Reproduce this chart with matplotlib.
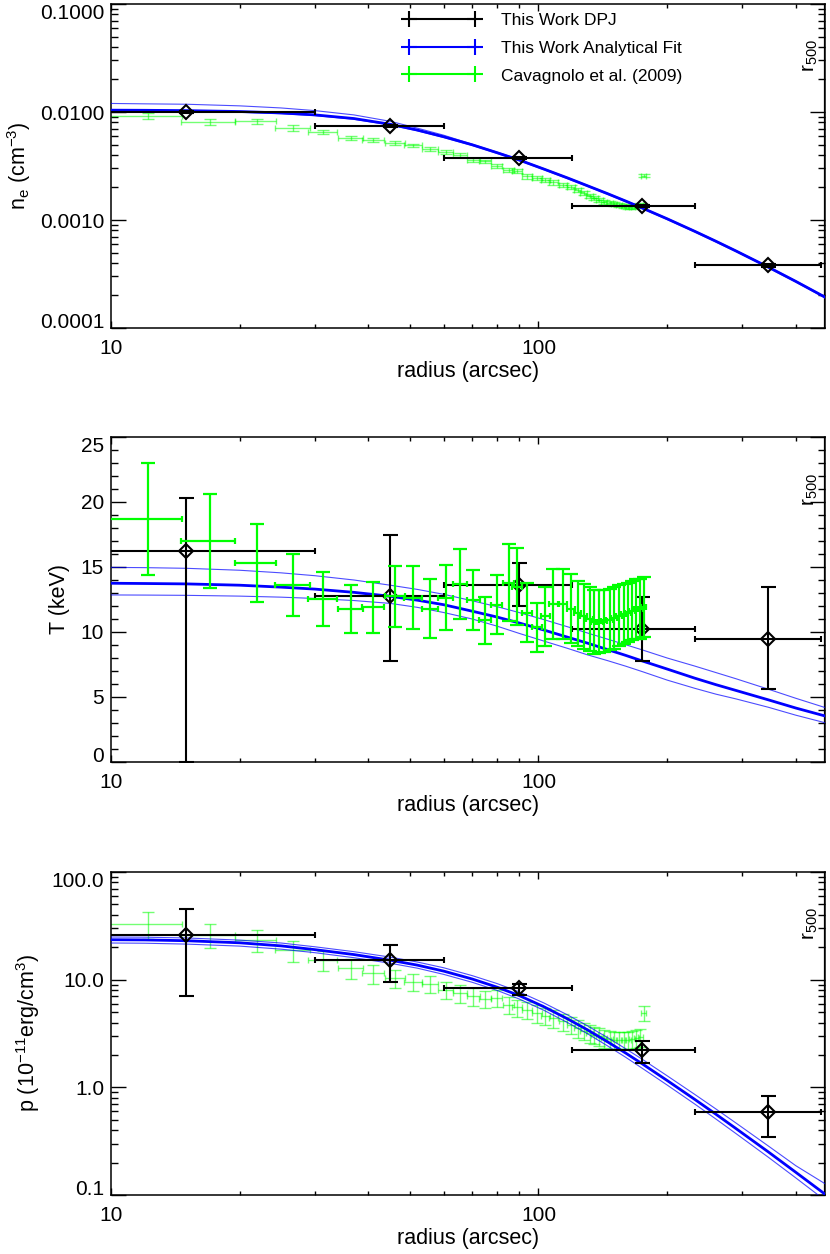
import matplotlib
matplotlib.use('Agg')
import matplotlib.pyplot as plt
from matplotlib.lines import Line2D
from matplotlib.ticker import LogLocator, NullFormatter, MultipleLocator
import numpy as np

plt.rcParams['font.family'] = ['Liberation Sans', 'DejaVu Sans']
plt.rcParams['mathtext.default'] = 'regular'

# --- this work, deprojected (DPJ) bins ---
dpj_r = [15, 45, 90, 175, 345]
dpj_rlo = [0, 30, 60, 120, 232]
dpj_rhi = [30, 60, 120, 232, 459]
dpj_ne = [0.0100, 0.0074, 0.00376, 0.00134, 0.00038]
dpj_ne_err = [0.0002, 0.00012, 0.00006, 0.00003, 0.00001]
dpj_T = [16.25, 12.8, 13.6, 10.2, 9.46]
dpj_T_lo = [16.25, 5.0, 1.6, 2.4, 3.87]
dpj_T_hi = [4.03, 4.7, 1.7, 2.47, 3.98]
dpj_p = [26.1, 15.3, 8.36, 2.20, 0.589]
dpj_p_lo = [19.0, 5.7, 1.11, 0.52, 0.245]
dpj_p_hi = [19.2, 5.8, 0.8, 0.52, 0.245]

# --- analytical fit (best, upper, lower) ---
fit_r = [10, 12, 15, 20, 25, 30, 37, 45, 52, 60, 70, 80, 90, 103, 117, 130, 145,
         160, 175, 200, 232, 260, 290, 345, 400, 467]
fit_ne = [0.0104, 0.01037, 0.0103, 0.0101, 0.0098, 0.0094, 0.0087, 0.0077, 0.00681,
          0.0059, 0.00497, 0.0042, 0.0036, 0.00296, 0.00245, 0.00208, 0.001755,
          0.001497, 0.00129, 0.001026, 0.000786, 0.000636, 0.000516, 0.000366,
          0.00027, 0.000194]
fit_ne_up = [0.0120, 0.0119, 0.0118, 0.0114, 0.0109, 0.0103, 0.0094, 0.0082, 0.0071,
             0.0061, 0.00503, 0.00425, 0.00364, 0.00299, 0.00247, 0.0021, 0.00177,
             0.00151, 0.0013, 0.001036, 0.000794, 0.000642, 0.000521, 0.00037,
             0.000273, 0.000196]
fit_ne_dn = [0.01024, 0.01021, 0.01015, 0.00995, 0.00965, 0.00926, 0.00857, 0.00758,
             0.00671, 0.00581, 0.0049, 0.00414, 0.00355, 0.00292, 0.00241, 0.00205,
             0.00173, 0.001475, 0.00127, 0.00101, 0.000774, 0.000626, 0.000508,
             0.00036, 0.000266, 0.000191]
fit_T = [13.75, 13.73, 13.7, 13.6, 13.45, 13.3, 13.05, 12.75, 12.45, 12.1, 11.6, 11.15,
         10.7, 10.15, 9.6, 9.15, 8.65, 8.2, 7.77, 7.15, 6.45, 5.95, 5.5, 4.78, 4.15,
         3.55]
fit_T_up = [14.97, 14.95, 14.9, 14.75, 14.55, 14.33, 14.0, 13.6, 13.28, 12.9, 12.4,
            11.95, 11.5, 10.95, 10.4, 9.93, 9.45, 9.02, 8.62, 8.0, 7.38, 6.88, 6.4,
            5.6, 4.9, 4.2]
fit_T_dn = [12.85, 12.84, 12.82, 12.76, 12.68, 12.58, 12.42, 12.2, 11.9, 11.5, 11.0,
            10.45, 9.9, 9.3, 8.74, 8.25, 7.8, 7.37, 6.95, 6.3, 5.67, 5.22, 4.85, 4.21,
            3.6, 3.03]
fit_p = [23.5, 23.4, 23.0, 22.0, 20.6, 19.0, 17.11, 15.16, 13.66, 12.01, 10.14, 8.52,
         7.14, 5.60, 4.32, 3.43, 2.65, 2.08, 1.65, 1.157, 0.773, 0.563, 0.413, 0.251,
         0.1624, 0.1025]
fit_p_up = [24.9, 24.8, 24.4, 23.3, 21.9, 20.2, 18.2, 16.2, 14.6, 12.9, 10.9, 9.2,
            7.72, 6.07, 4.7, 3.74, 2.9, 2.28, 1.82, 1.28, 0.86, 0.63, 0.465, 0.285,
            0.187, 0.128]
fit_p_dn = [21.9, 21.8, 21.4, 20.5, 19.2, 17.8, 16.0, 14.2, 12.8, 11.2, 9.45, 7.95,
            6.63, 5.19, 3.99, 3.16, 2.43, 1.9, 1.5, 1.05, 0.70, 0.508, 0.371, 0.224,
            0.144, 0.09]

# --- Cavagnolo et al. (2009) ---
cav_r = [12.2, 17.0, 21.9, 26.7, 31.4, 36.4, 41.1, 46.2, 51.0, 55.8, 60.7, 65.6, 70.4,
         75.1, 79.9, 85.1, 89.0, 94.0, 99.2, 103.7, 108.4, 114.1, 119.3, 123.4, 127.5,
         131.7, 135.2, 138.9, 142.5, 146.6, 150.4, 154.3, 158.1, 161.9, 165.5, 169.3,
         173.0, 176.3]
cav_r_err = 2.45
cav_ne = [0.0092, 0.0081, 0.0082, 0.0071, 0.0065, 0.0058, 0.0055, 0.0052, 0.0049,
          0.00456, 0.00424, 0.00403, 0.00362, 0.00349, 0.00318, 0.00292, 0.00282,
          0.00253, 0.00245, 0.00236, 0.00223, 0.00212, 0.00202, 0.00190, 0.00177,
          0.00167, 0.00159, 0.00153, 0.00148, 0.00145, 0.00141, 0.00138, 0.00135,
          0.00133, 0.00133, 0.00135, 0.00138, 0.00257]
cav_ne_err = [0.0006, 0.0005, 0.0005, 0.0004, 0.0003, 0.00025, 0.00022, 0.0002, 0.00019,
              0.00018, 0.00017, 0.00016, 0.00015, 0.00014, 0.00013, 0.00012, 0.00012,
              0.00011, 0.0001, 0.0001, 0.0001, 0.00009, 0.00009, 0.00008, 0.00008,
              0.00007, 0.00007, 0.00007, 0.00006, 0.00006, 0.00006, 0.00006, 0.00006,
              0.00006, 0.00006, 0.00006, 0.00006, 0.00008]
cav_T = [18.7, 17.0, 15.3, 13.6, 12.55, 11.8, 11.9, 12.75, 12.65, 11.8, 12.65, 13.7,
         12.45, 10.9, 12.1, 13.8, 13.5, 11.5, 10.35, 11.2, 12.15, 12.15, 11.8, 11.45,
         11.2, 11.0, 10.8, 10.8, 10.85, 10.95, 11.1, 11.25, 11.4, 11.5, 11.65, 11.75,
         11.8, 11.9]
cav_T_err = [4.3, 3.65, 3.0, 2.4, 2.05, 1.85, 1.95, 2.35, 2.45, 2.27, 2.5, 2.7, 2.3,
             1.8, 2.25, 2.95, 2.95, 2.25, 1.9, 2.3, 2.7, 2.72, 2.63, 2.5, 2.47, 2.48,
             2.46, 2.44, 2.4, 2.37, 2.37, 2.35, 2.33, 2.3, 2.3, 2.3, 2.3, 2.3]
cav_p = [33.1, 26.1, 23.5, 18.7, 15.3, 12.8, 11.5, 10.3, 9.6, 9.2, 8.05, 7.5, 6.98,
         6.6, 6.75, 5.85, 5.52, 5.25, 4.9, 4.62, 4.39, 4.09, 3.81, 3.55, 3.35, 3.19,
         3.08, 2.97, 2.86, 2.80, 2.76, 2.76, 2.76, 2.76, 2.80, 2.86, 2.93, 4.9]
cav_p_err = [9.0, 6.5, 5.5, 4.2, 3.2, 2.6, 2.3, 2.0, 1.8, 1.7, 1.5, 1.4, 1.3, 1.2, 1.2,
             1.05, 1.0, 0.95, 0.9, 0.85, 0.8, 0.75, 0.7, 0.65, 0.62, 0.6, 0.58, 0.55,
             0.53, 0.52, 0.51, 0.51, 0.51, 0.51, 0.52, 0.53, 0.55, 0.8]

r500 = 468
leg_labels = ['This Work DPJ', 'This Work Analytical Fit', 'Cavagnolo et al. (2009)']

BLUE = '#0000ff'
GREEN = '#00ff00'

fig = plt.figure(figsize=(8.3, 12.54), dpi=100)
W, H = 830.0, 1254.0
ax1 = fig.add_axes([111 / W, 1 - 328 / H, 714 / W, 324 / H])
ax2 = fig.add_axes([111 / W, 1 - 762 / H, 714 / W, 325 / H])
ax3 = fig.add_axes([111 / W, 1 - 1195 / H, 714 / W, 323 / H])


def style(ax):
    ax.set_xscale('log')
    ax.set_xlim(10, r500)
    ax.set_xticks([10, 100])
    ax.set_xticklabels(['10', '100'])
    ax.xaxis.set_minor_locator(LogLocator(base=10, subs=np.arange(2, 10)))
    ax.xaxis.set_minor_formatter(NullFormatter())
    ax.tick_params(which='both', direction='in', top=True, right=True, width=1.0,
                   labelsize=15, color='k')
    ax.tick_params(axis='y', which='major', length=10.8, pad=5)
    ax.tick_params(axis='y', which='minor', length=5.3)
    ax.tick_params(axis='x', which='major', length=4.7, pad=8)
    ax.tick_params(axis='x', which='minor', length=3)
    for s in ax.spines.values():
        s.set_linewidth(1.1)
    ax.set_xlabel('radius (arcsec)', fontsize=15.5, labelpad=2)
    ax.axvline(r500, color='k', lw=1.6)
    ax.text(0.979, 0.84, r'r$_{500}$', transform=ax.transAxes, rotation=90,
            ha='center', va='center', fontsize=15)


def ylabels_inside(ax, ticks, labels):
    # IDL keeps the end labels inside the box
    ax.set_yticks(ticks)
    ax.set_yticklabels(labels)
    t = ax.yaxis.get_major_ticks()
    t[0].label1.set_verticalalignment('baseline')
    t[-1].label1.set_verticalalignment('top')


def dpj(ax, y, ylo, yhi):
    xlo = np.array(dpj_r) - np.array(dpj_rlo)
    xhi = np.array(dpj_rhi) - np.array(dpj_r)
    ax.errorbar(dpj_r, y, xerr=[xlo, xhi], fmt='none', ecolor='k', elinewidth=1.5,
                capsize=2.5, capthick=1.5, zorder=4)
    ax.errorbar(dpj_r, y, yerr=[ylo, yhi], fmt='none', ecolor='k', elinewidth=1.5,
                capsize=5.4, capthick=1.5, zorder=4)
    ax.plot(dpj_r, y, 'D', mfc='none', mec='k', ms=7, mew=1.5, zorder=5)


def fit(ax, y, yup, ydn):
    ax.plot(fit_r, yup, color=BLUE, lw=0.8, alpha=0.7, zorder=3)
    ax.plot(fit_r, ydn, color=BLUE, lw=0.8, alpha=0.7, zorder=3)
    ax.plot(fit_r, y, color=BLUE, lw=2.0, zorder=3)


# ---- density ----
ax1.errorbar(cav_r, cav_ne, yerr=cav_ne_err, fmt='none', ecolor=GREEN, elinewidth=1.0,
             capsize=4.5, capthick=1.0, alpha=0.55, zorder=2)
ax1.errorbar(cav_r, cav_ne, xerr=cav_r_err, fmt='none', ecolor=GREEN, elinewidth=1.0,
             capsize=2, capthick=1.0, alpha=0.55, zorder=2)
fit(ax1, fit_ne, fit_ne_up, fit_ne_dn)
dpj(ax1, dpj_ne, dpj_ne_err, dpj_ne_err)
style(ax1)
ax1.set_yscale('log')
ax1.set_ylim(1e-4, 0.1)
ylabels_inside(ax1, [1e-4, 1e-3, 1e-2, 1e-1], ['0.0001', '0.0010', '0.0100', '0.1000'])
ax1.yaxis.set_minor_formatter(NullFormatter())
ax1.set_ylabel(r'n$_e$ (cm$^{-3}$)', fontsize=15.5, labelpad=5)

handles = [Line2D([], [], color='k', marker='+', ms=12, mew=1.5, lw=1.5),
           Line2D([], [], color=BLUE, marker='+', ms=12, mew=1.5, lw=1.5),
           Line2D([], [], color=GREEN, marker='+', ms=12, mew=1.5, lw=1.5)]
ax1.legend(handles, leg_labels, loc='upper left', bbox_to_anchor=(0.41, 0.972),
           frameon=False, numpoints=2, handlelength=4.4, handletextpad=1.2,
           labelspacing=0.72, fontsize=12.5, borderaxespad=0, borderpad=0)

# ---- temperature ----
fit(ax2, fit_T, fit_T_up, fit_T_dn)
dpj(ax2, dpj_T, dpj_T_lo, dpj_T_hi)
ax2.errorbar(cav_r, cav_T, yerr=cav_T_err, fmt='none', ecolor=GREEN, elinewidth=1.6,
             capsize=4.7, capthick=1.6, zorder=6)
ax2.errorbar(cav_r, cav_T, xerr=cav_r_err, fmt='none', ecolor=GREEN, elinewidth=1.6,
             capsize=2, capthick=1.6, zorder=6)
style(ax2)
ax2.set_ylim(0, 25)
ylabels_inside(ax2, [0, 5, 10, 15, 20, 25], ['0', '5', '10', '15', '20', '25'])
ax2.yaxis.set_minor_locator(MultipleLocator(1))
ax2.set_ylabel('T (keV)', fontsize=15.5, labelpad=8)

# ---- pressure ----
ax3.errorbar(cav_r, cav_p, yerr=cav_p_err, fmt='none', ecolor=GREEN, elinewidth=1.0,
             capsize=4.5, capthick=1.0, alpha=0.55, zorder=2)
ax3.errorbar(cav_r, cav_p, xerr=cav_r_err, fmt='none', ecolor=GREEN, elinewidth=1.0,
             capsize=2, capthick=1.0, alpha=0.55, zorder=2)
fit(ax3, fit_p, fit_p_up, fit_p_dn)
dpj(ax3, dpj_p, dpj_p_lo, dpj_p_hi)
style(ax3)
ax3.set_yscale('log')
ax3.set_ylim(0.1, 100)
ylabels_inside(ax3, [0.1, 1, 10, 100], ['0.1', '1.0', '10.0', '100.0'])
ax3.yaxis.set_minor_formatter(NullFormatter())
ax3.set_ylabel(r'p (10$^{-11}$erg/cm$^3$)', fontsize=15.5, labelpad=7)

fig.savefig('out.png', dpi=100)
